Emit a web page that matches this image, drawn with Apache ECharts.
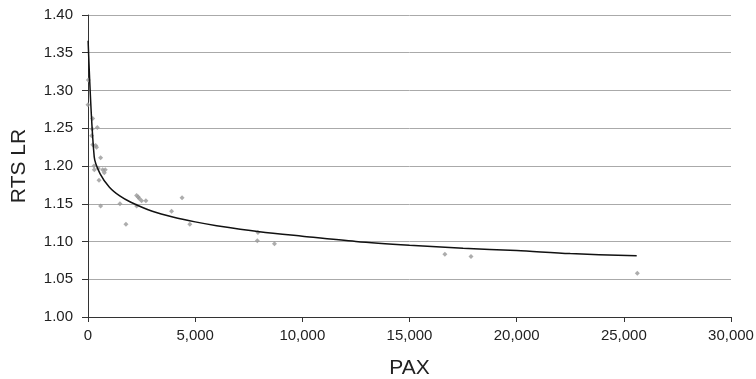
<!DOCTYPE html>
<html><head><meta charset="utf-8">
<script src="https://cdn.jsdelivr.net/npm/echarts@6/dist/echarts.min.js"></script>
<style>html,body{margin:0;padding:0;background:#fff}#c{width:756px;height:379px}</style>
</head><body><div id="c"></div>
<script>
// Observed points (PAX, RTS LR)
const obsX = [15, 0, 220, 200, 435, 170, 220, 360, 400, 590, 280, 295, 480, 685, 806, 760, 512, 590, 1490, 2270, 2345, 2390, 2500, 2700, 2270, 3900, 4390, 1770, 4750, 7930, 7900, 8700, 16650, 17870, 25630];
const obsY = [1.314, 1.281, 1.263, 1.249, 1.251, 1.240, 1.228, 1.227, 1.225, 1.211, 1.200, 1.195, 1.197, 1.195, 1.195, 1.191, 1.181, 1.147, 1.150, 1.161, 1.159, 1.157, 1.154, 1.154, 1.147, 1.140, 1.158, 1.123, 1.123, 1.112, 1.101, 1.097, 1.083, 1.080, 1.058];
// Trend line
const trendX = [5, 290, 560, 1000, 1500, 2000, 3000, 4000, 5000, 6000, 8000, 10000, 12500, 15000, 17500, 20000, 22500, 25600];
const trendY = [1.366, 1.212, 1.190, 1.172, 1.160, 1.152, 1.140, 1.132, 1.126, 1.121, 1.113, 1.107, 1.100, 1.095, 1.091, 1.088, 1.084, 1.081];
const xTitle = 'PAX';
const yTitle = 'RTS LR';

const chart = echarts.init(document.getElementById('c'), null, {renderer: 'canvas'});
const font = 'Liberation Sans, Arial, sans-serif';
chart.setOption({
  animation: false,
  grid: {left: 88, right: 25, top: 15, bottom: 62, containLabel: false, outerBoundsMode: 'none'},
  xAxis: {
    type: 'value', min: 0, max: 30000, interval: 5000,
    name: xTitle, nameLocation: 'middle', nameGap: 41,
    nameTextStyle: {fontFamily: font, fontSize: 21, color: '#222'},
    axisLine: {show: true, onZero: false, lineStyle: {color: '#333', width: 1}},
    axisTick: {show: true, length: 5, lineStyle: {color: '#333'}},
    axisLabel: {fontFamily: font, fontSize: 15, color: '#222', margin: 11,
      formatter: v => v.toLocaleString('en-US')},
    splitLine: {show: false}
  },
  yAxis: {
    type: 'value', min: 1.0, max: 1.4, interval: 0.05,
    name: yTitle, nameLocation: 'middle', nameGap: 58, nameRotate: 90,
    nameTextStyle: {fontFamily: font, fontSize: 21, color: '#222'},
    axisLine: {show: true, lineStyle: {color: '#333', width: 1}},
    axisTick: {show: true, length: 6, lineStyle: {color: '#333'}},
    axisLabel: {fontFamily: font, fontSize: 15, color: '#222', margin: 15,
      formatter: v => v.toFixed(2)},
    splitLine: {show: true, lineStyle: {color: '#aaa', width: 1}}
  },
  series: [
    {type: 'scatter', symbol: 'diamond', symbolSize: 5,
     itemStyle: {color: '#999'},
     data: obsX.map((x, i) => [x, obsY[i]]), z: 2},
    {type: 'line', showSymbol: false, symbol: 'none', smooth: 0.3,
     lineStyle: {color: '#111', width: 1.5},
     data: trendX.map((x, i) => [x, trendY[i]]), z: 3}
  ]
});
</script>
</body></html>
